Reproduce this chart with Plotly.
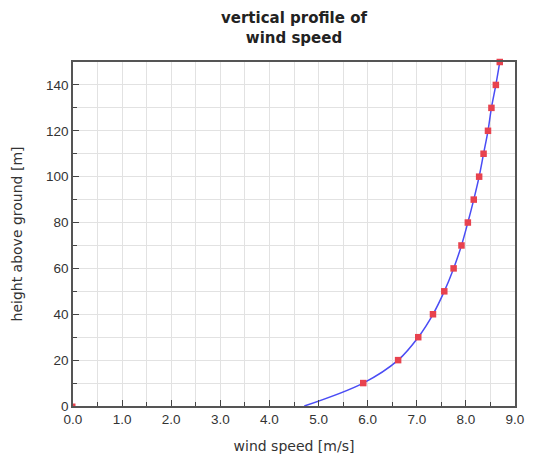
import plotly.graph_objects as go

heights = [10, 20, 30, 40, 50, 60, 70, 80, 90, 100, 110, 120, 130, 140, 150]
speeds = [5.91, 6.62, 7.03, 7.33, 7.56, 7.75, 7.91, 8.04, 8.16, 8.27, 8.36, 8.45, 8.52, 8.61, 8.69]
origin_speed = [0.0]
origin_height = [0.0]
curve_heights = [0, 10, 20, 30, 40, 50, 60, 70, 80, 90, 100, 110, 120, 130, 140, 150]
curve_speeds = [4.71, 5.91, 6.62, 7.03, 7.33, 7.56, 7.75, 7.91, 8.04, 8.16, 8.27, 8.36, 8.45, 8.52, 8.61, 8.69]
x_ticks = [0, 1, 2, 3, 4, 5, 6, 7, 8, 9]
x_labels = ["0.0", "1.0", "2.0", "3.0", "4.0", "5.0", "6.0", "7.0", "8.0", "9.0"]
title_text = "<b>vertical profile of<br>wind speed</b>"

fig = go.Figure()
fig.add_trace(go.Scatter(x=curve_speeds, y=curve_heights, mode="lines",
                         line=dict(color="#4a4cf5", width=1.5, shape="spline", smoothing=1.0),
                         hoverinfo="skip"))
fig.add_trace(go.Scatter(x=speeds, y=heights, mode="markers",
                         marker=dict(symbol="square", size=6.5, color="#e8424e"),
                         cliponaxis=False))
fig.add_trace(go.Scatter(x=origin_speed, y=origin_height, mode="markers",
                         marker=dict(symbol="square", size=5, color="#e8424e"),
                         cliponaxis=True))

axis_common = dict(showline=True, linecolor="#555555", linewidth=1.5, mirror=True,
                   showgrid=True, gridcolor="#e2e2e2", gridwidth=1,
                   ticks="inside", ticklen=6, tickcolor="#444444",
                   tickfont=dict(family="Liberation Sans, Arial", size=13.5, color="#333333"),
                   zeroline=False)

fig.update_layout(
    width=535, height=463,
    margin=dict(l=73, r=11, t=62, b=56),
    paper_bgcolor="white", plot_bgcolor="white",
    showlegend=False,
    annotations=[dict(text=title_text, xref="paper", yref="paper", x=0.5, y=1.1,
                      xanchor="center", yanchor="middle", showarrow=False,
                      font=dict(family="DejaVu Sans", size=15, color="#222222"))],
    xaxis=dict(range=[0, 9], tickvals=x_ticks, ticktext=x_labels,
               minor=dict(dtick=0.5, ticks="inside", ticklen=4, tickcolor="#444444",
                          showgrid=True, gridcolor="#e2e2e2"),
               title=dict(text="wind speed [m/s]", standoff=15,
                          font=dict(family="DejaVu Sans", size=14, color="#333333")),
               **axis_common),
    yaxis=dict(range=[0, 150], dtick=20,
               minor=dict(dtick=10, ticks="inside", ticklen=4, tickcolor="#444444",
                          showgrid=True, gridcolor="#e2e2e2"),
               title=dict(text="height above ground [m]", standoff=20,
                          font=dict(family="DejaVu Sans", size=14, color="#333333")),
               **axis_common),
)

fig.write_html("out.html")
